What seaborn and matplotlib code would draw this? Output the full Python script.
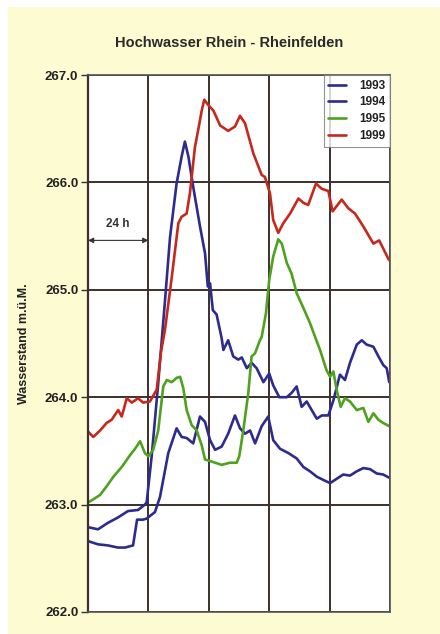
import pandas as pd
import matplotlib.pyplot as plt
import seaborn as sns
from matplotlib.patches import Rectangle

sns.set_theme(style="white")
plt.rcParams['font.family'] = ['Liberation Sans', 'DejaVu Sans']

# hours since start, water level (m a.s.l.)
h_1993 = [0, 4.0, 7.9, 11.9, 15.9, 19.9, 22.6, 23.3, 25.3, 27.9, 30.6, 32.6, 35.2, 37.2, 38.5,
          39.9, 41.8, 44.5, 46.5, 47.6, 48.5, 49.6, 51.1, 53.1, 53.8, 55.7, 57.7, 59.7, 61.1,
          63.1, 65.0, 67.0, 69.7, 72.0, 73.6, 76.0, 79.0, 80.9, 82.9, 84.9, 86.9, 88.9, 90.9,
          92.9, 95.5, 97.5, 100.1, 102.1, 104.1, 106.8, 108.8, 110.7, 113.4, 115.4, 117.3,
          118.7, 119.7]
w_1993 = [262.79, 262.77, 262.83, 262.88, 262.94, 262.95, 263.00, 263.02, 263.45, 264.13, 264.90,
          265.49, 265.99, 266.24, 266.38, 266.24, 265.96, 265.59, 265.34, 265.03, 265.06, 264.81,
          264.77, 264.55, 264.44, 264.53, 264.38, 264.35, 264.37, 264.27, 264.32, 264.27, 264.14,
          264.22, 264.11, 264.00, 264.00, 264.04, 264.10, 263.91, 263.96, 263.88, 263.80, 263.83,
          263.83, 263.97, 264.21, 264.16, 264.32, 264.49, 264.53, 264.49, 264.47, 264.38, 264.30,
          264.27, 264.14]

h_1994 = [0, 4.0, 7.9, 11.9, 14.7, 17.9, 19.5, 21.9, 23.3, 26.6, 28.6, 31.9, 35.2, 37.2, 39.2,
          41.8, 44.5, 46.5, 48.5, 50.5, 53.1, 55.7, 58.4, 60.4, 62.4, 64.4, 66.4, 69.0, 71.6,
          73.6, 76.3, 79.6, 82.9, 85.6, 88.2, 90.9, 93.5, 96.2, 98.8, 101.4, 104.1, 106.8,
          109.4, 112.1, 114.7, 117.3, 119.7]
w_1994 = [262.66, 262.63, 262.62, 262.60, 262.60, 262.62, 262.86, 262.86, 262.87, 262.93, 263.07,
          263.48, 263.71, 263.63, 263.62, 263.57, 263.82, 263.77, 263.60, 263.51, 263.54, 263.66,
          263.83, 263.71, 263.66, 263.69, 263.57, 263.73, 263.82, 263.60, 263.52, 263.48, 263.43,
          263.35, 263.31, 263.26, 263.23, 263.20, 263.24, 263.28, 263.27, 263.31, 263.34, 263.33,
          263.29, 263.28, 263.25]

h_1995 = [0, 0.8, 4.8, 7.4, 10.1, 13.4, 16.7, 18.7, 20.7, 22.6, 24.0, 25.9, 27.9, 29.9, 31.3,
          33.3, 35.2, 36.6, 37.9, 39.2, 41.2, 43.2, 45.2, 46.5, 49.2, 53.1, 56.4, 59.1, 60.1,
          61.7, 63.7, 65.0, 66.4, 68.3, 69.0, 70.7, 72.0, 73.6, 75.6, 77.0, 79.0, 80.9, 82.9,
          85.6, 88.2, 90.9, 92.2, 94.8, 96.2, 97.5, 98.8, 100.4, 102.1, 104.1, 106.8, 109.4,
          111.4, 113.4, 115.4, 117.3, 119.7]
w_1995 = [263.02, 263.03, 263.09, 263.17, 263.26, 263.35, 263.46, 263.52, 263.59, 263.48, 263.45,
          263.51, 263.69, 264.10, 264.16, 264.14, 264.18, 264.19, 264.08, 263.88, 263.74, 263.69,
          263.55, 263.42, 263.40, 263.37, 263.39, 263.39, 263.45, 263.69, 264.04, 264.38, 264.41,
          264.53, 264.56, 264.78, 265.09, 265.31, 265.47, 265.43, 265.25, 265.15, 264.97, 264.83,
          264.69, 264.52, 264.44, 264.25, 264.19, 264.24, 264.07, 263.91, 263.99, 263.96, 263.88,
          263.90, 263.77, 263.85, 263.79, 263.76, 263.73]

h_1999 = [0, 2.1, 4.8, 7.4, 9.4, 12.0, 13.4, 15.4, 17.4, 19.9, 21.9, 24.6, 27.3, 29.0, 30.6,
          33.3, 35.9, 37.2, 39.2, 40.5, 42.5, 43.8, 45.2, 46.2, 47.8, 49.8, 52.5, 55.7, 58.4,
          60.4, 62.4, 65.7, 69.0, 70.3, 72.3, 73.6, 75.6, 77.6, 80.3, 83.6, 85.6, 87.5, 90.6,
          92.9, 95.5, 97.2, 100.8, 103.4, 106.1, 109.4, 113.4, 115.7, 119.3, 120.0]
w_1999 = [263.68, 263.63, 263.69, 263.76, 263.79, 263.88, 263.82, 263.99, 263.95, 263.99, 263.95,
          263.96, 264.07, 264.42, 264.63, 265.12, 265.62, 265.68, 265.71, 265.90, 266.33, 266.49,
          266.67, 266.77, 266.72, 266.67, 266.53, 266.48, 266.52, 266.62, 266.55, 266.27, 266.07,
          266.05, 265.90, 265.65, 265.53, 265.62, 265.71, 265.85, 265.81, 265.79, 265.99, 265.94,
          265.92, 265.73, 265.84, 265.76, 265.71, 265.59, 265.43, 265.46, 265.29, 265.27]

years = ['1993', '1994', '1995', '1999']
colors = ['#2d2b8e', '#2d2b8e', '#4ea21e', '#c6281b']
y_ticks = [262.0, 263.0, 264.0, 265.0, 266.0, 267.0]

frames = []
for yr, h, w in zip(years, [h_1993, h_1994, h_1995, h_1999], [w_1993, w_1994, w_1995, w_1999]):
    frames.append(pd.DataFrame({'Stunden': h, 'Wasserstand': w, 'Jahr': yr}))
df = pd.concat(frames, ignore_index=True)

fig = plt.figure(figsize=(4.4, 6.34), dpi=100)
fig.patch.set_facecolor('white')
fig.patches.append(Rectangle((8 / 440, 0), 1, 1 - 7 / 634, transform=fig.transFigure,
                             facecolor='#fdfbd2', edgecolor='none', zorder=-10))

ax = fig.add_axes([88 / 440, 1 - 612 / 634, 302 / 440, 537 / 634])
ax.set_facecolor('white')

sns.lineplot(data=df, x='Stunden', y='Wasserstand', hue='Jahr', palette=dict(zip(years, colors)),
             linewidth=1.9, ax=ax, sort=False, estimator=None)

ax.set_xlim(0, 120)
ax.set_ylim(262, 267)
ax.set_xticks([0, 24, 48, 72, 96, 120])
ax.set_xticklabels([])
ax.set_yticks(y_ticks)
ax.set_yticklabels([f'{t:.1f}' for t in y_ticks], fontsize=9.5, fontweight='bold', color='#222222')
ax.tick_params(axis='y', direction='out', length=5, width=1, color='#333333', left=True, pad=2)
ax.tick_params(axis='x', length=0)
ax.grid(True, color='#3b302c', linewidth=1.4)
ax.set_axisbelow(True)
for side, sp in ax.spines.items():
    sp.set_color('#555555')
    sp.set_linewidth(1.2)
ax.spines['left'].set_color('#3b302c')
ax.spines['left'].set_linewidth(1.6)

ax.set_xlabel('')
ax.set_ylabel('Wasserstand m.ü.M.', fontsize=9, fontweight='bold', color='#222222', labelpad=11)

ax.annotate('', xy=(0, 265.46), xytext=(24, 265.46),
            arrowprops=dict(arrowstyle='<|-|>', color='#333333', lw=0.8, mutation_scale=8,
                            shrinkA=0, shrinkB=0))
ax.text(12, 265.56, '24 h', ha='center', va='bottom', fontsize=8.5, fontweight='bold', color='#333333')

leg = ax.legend(loc='upper right', frameon=True, fancybox=False, borderaxespad=0,
                prop={'weight': 'bold', 'size': 8.5}, handlelength=1.5, labelspacing=0.4,
                borderpad=0.4, handletextpad=1.1)
leg.get_frame().set_edgecolor('#777777')
leg.get_frame().set_linewidth(0.8)
for t in leg.get_texts():
    t.set_color('#222222')

fig.text(229 / 440, 1 - 43 / 634, 'Hochwasser Rhein - Rheinfelden', ha='center', va='center',
         fontsize=10.5, fontweight='bold', color='#2a2a2a')

fig.savefig('out.png', dpi=100, facecolor=fig.get_facecolor())
